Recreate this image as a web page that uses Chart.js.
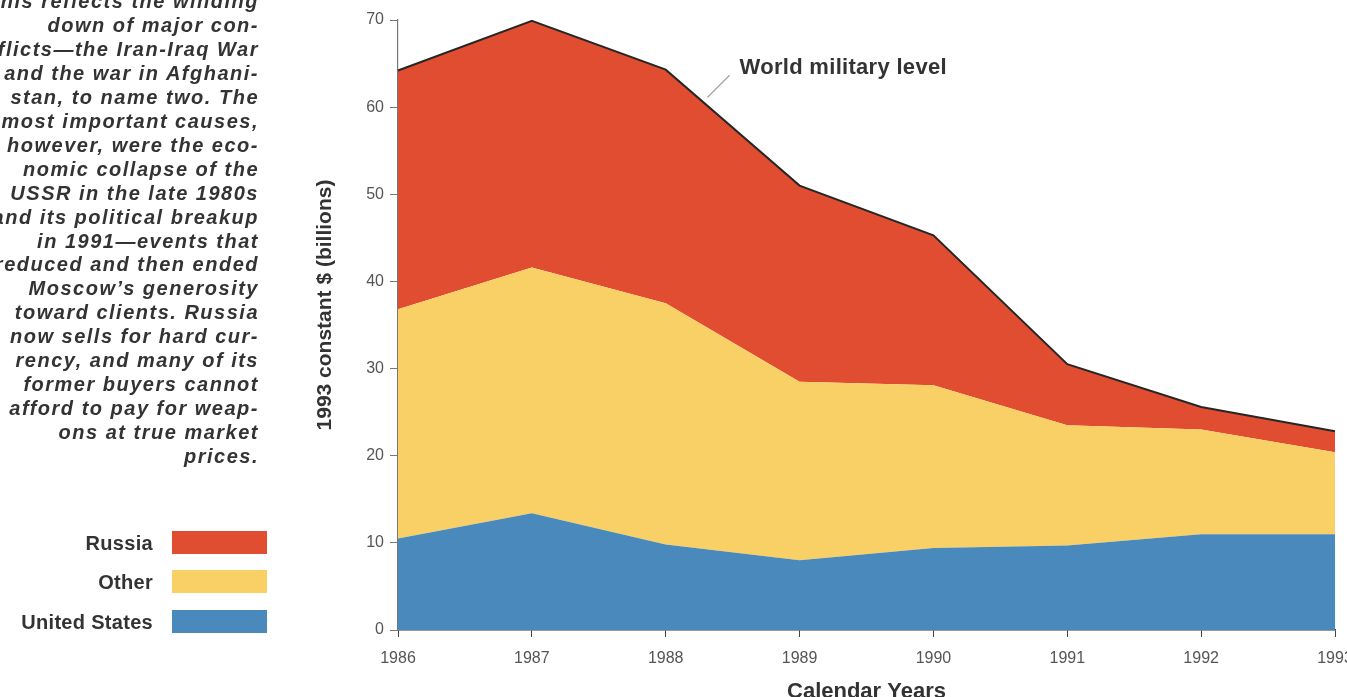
<!DOCTYPE html>
<html>
<head>
<meta charset="utf-8">
<script src="https://cdn.jsdelivr.net/npm/chart.js@4.4.1/dist/chart.umd.min.js"></script>
<style>
  html, body { margin: 0; padding: 0; background: #fff; width: 1347px; height: 697px; overflow: hidden; }
  #wrap { position: relative; width: 1347px; height: 697px; }
  #chart { position: absolute; left: 0; top: 0; }
  #note {
    position: absolute; left: -200px; width: 459px; top: -10px;
    text-align: right; white-space: pre; color: #333;
    font: italic bold 20px/23.95px "Liberation Sans", Arial, sans-serif;
    letter-spacing: 1.5px;
  }
  .key { position: absolute; left: 0; width: 267px; height: 23px; }
  .key span {
    position: absolute; right: 114px; top: 0; color: #333; white-space: nowrap;
    font: bold 20px/24px "Liberation Sans", Arial, sans-serif; letter-spacing: 0.3px;
  }
  .key i { position: absolute; left: 172px; top: 0; width: 95px; height: 23px; }
</style>
</head>
<body>
<div id="wrap">
  <canvas id="chart" width="1347" height="697"></canvas>
  <div id="note">This reflects the winding
down of major con-
flicts—the Iran-Iraq War
and the war in Afghani-
stan, to name two. The
most important causes,
however, were the eco-
nomic collapse of the
USSR in the late 1980s
and its political breakup
in 1991—events that
reduced and then ended
Moscow’s generosity
toward clients. Russia
now sells for hard cur-
rency, and many of its
former buyers cannot
afford to pay for weap-
ons at true market
prices.</div>
  <div class="key" style="top:531px"><span>Russia</span><i id="kRussia"></i></div>
  <div class="key" style="top:570px"><span>Other</span><i id="kOther"></i></div>
  <div class="key" style="top:610px"><span>United States</span><i id="kUS"></i></div>
</div>
<script>
// Arms deliveries by supplier, 1993 constant $ (billions)
const years = ['1986', '1987', '1988', '1989', '1990', '1991', '1992', '1993'];
const unitedStates = [10.5, 13.4, 9.8, 8.0, 9.4, 9.7, 11.0, 11.0];
const other        = [26.3, 28.2, 27.7, 20.5, 18.7, 13.8, 12.0, 9.4];
const russia       = [27.4, 28.3, 26.8, 22.5, 17.2, 7.0, 2.6, 2.4];
const yTicks = [0, 10, 20, 30, 40, 50, 60, 70];
const yTitle = '1993 constant $ (billions)';

const colors = { russia: '#e14d30', other: '#f8d066', us: '#4a89bb' };
document.getElementById('kRussia').style.background = colors.russia;
document.getElementById('kOther').style.background = colors.other;
document.getElementById('kUS').style.background = colors.us;

const FONT = '"Liberation Sans", Arial, sans-serif';

// Label with a leader line pointing at the top (world total) edge,
// plus the rotated value-axis title set a little above the axis middle
const chartText = {
  id: 'chartText',
  afterDatasetsDraw(chart) {
    const pts = chart.getDatasetMeta(2).data;
    const a = pts[2], b = pts[3], t = 0.29;
    const x = a.x + (b.x - a.x) * t + 3;
    const y = a.y + (b.y - a.y) * t - 6;
    const ctx = chart.ctx;
    ctx.save();
    ctx.strokeStyle = '#a0a0a0';
    ctx.lineWidth = 1.2;
    ctx.beginPath();
    ctx.moveTo(x, y);
    ctx.lineTo(x + 22, y - 22);
    ctx.stroke();
    ctx.fillStyle = '#333';
    ctx.font = 'bold 22px ' + FONT;
    ctx.letterSpacing = '0.3px';
    ctx.textBaseline = 'middle';
    ctx.textAlign = 'left';
    ctx.fillText('World military level', x + 32, y - 29);
    ctx.restore();
  },
  afterDraw(chart) {
    const ys = chart.scales.y;
    const ctx = chart.ctx;
    ctx.save();
    ctx.translate(ys.left + 25, (ys.top + ys.bottom) / 2 - 20);
    ctx.rotate(-Math.PI / 2);
    ctx.fillStyle = '#333';
    ctx.font = 'bold 21px ' + FONT;
    ctx.textAlign = 'center';
    ctx.textBaseline = 'middle';
    ctx.fillText(yTitle, 0, 0);
    ctx.restore();
  }
};

new Chart(document.getElementById('chart'), {
  type: 'line',
  data: {
    labels: years,
    datasets: [
      { label: 'United States', data: unitedStates, backgroundColor: colors.us,
        fill: 'origin', borderWidth: 0, pointRadius: 0 },
      { label: 'Other', data: other, backgroundColor: colors.other,
        fill: '-1', borderWidth: 0, pointRadius: 0 },
      { label: 'Russia', data: russia, backgroundColor: colors.russia,
        fill: '-1', borderColor: '#262626', borderWidth: 2, pointRadius: 0 }
    ]
  },
  options: {
    responsive: false,
    animation: false,
    events: [],
    layout: { padding: { left: 300, right: 12, top: 20, bottom: 0 } },
    plugins: { legend: { display: false }, tooltip: { enabled: false } },
    elements: { line: { tension: 0 } },
    scales: {
      x: {
        type: 'category',
        offset: false,
        grid: { display: true, drawOnChartArea: false, tickLength: 7, color: '#444', offset: false },
        border: { display: true, color: '#333', width: 1.5 },
        ticks: { color: '#555', font: { family: FONT, size: 16 }, padding: 12, maxRotation: 0 },
        title: { display: true, text: 'Calendar Years', color: '#333',
                 font: { family: FONT, size: 22, weight: 'bold' }, padding: { top: 0, bottom: -8 } },
        afterFit(scale) { scale.height = 67; scale.paddingLeft = 0; scale.paddingRight = 0; }
      },
      y: {
        stacked: true,
        min: 0, max: 70,
        afterBuildTicks(scale) { scale.ticks = yTicks.map(v => ({ value: v })); },
        grid: { display: true, drawOnChartArea: false, tickLength: 8, color: '#777' },
        border: { display: true, color: '#777', width: 1.2 },
        ticks: { color: '#555', font: { family: FONT, size: 16 }, padding: 6 },
        title: { display: false },
        afterFit(scale) { scale.width = 98; scale.paddingTop = 0; scale.paddingBottom = 0; }
      }
    }
  },
  plugins: [chartText]
});
</script>
</body>
</html>
